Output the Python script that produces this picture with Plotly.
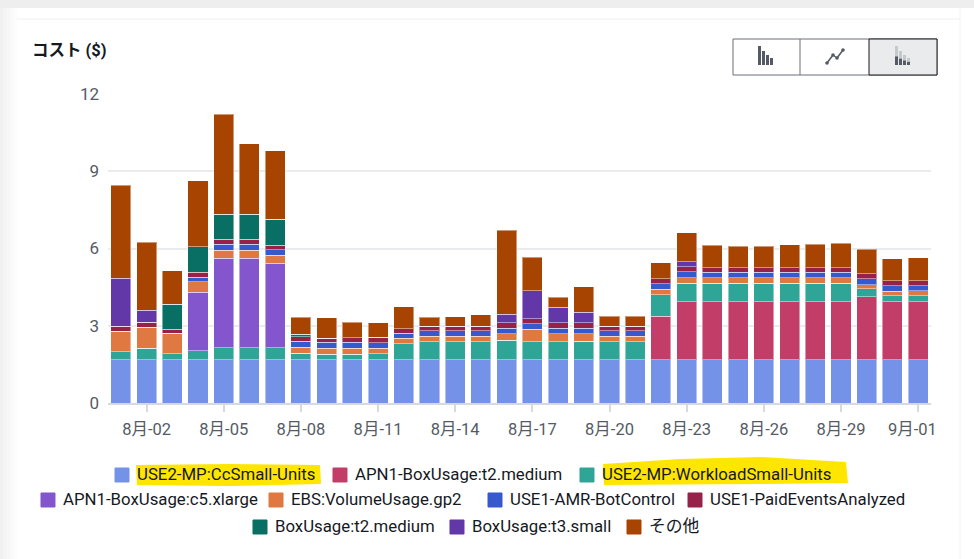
import plotly.graph_objects as go

W, H = 974, 559
L, R, T, B = 108, 931, 94, 403

days = [f"8月-{d:02d}" for d in range(1, 32)] + ["9月-01"]
tick_labels = days[1::3]

cc_small = [1.68] * 32
t2_apn = [0]*21 + [1.68, 2.26, 2.26, 2.26, 2.26, 2.26, 2.26, 2.26, 2.44, 2.26, 2.26]
workload = [.32, .45, .23, .35, .47, .47, .47, .25, .21, .21, .23, .62, .70, .70, .70, .75,
            .70, .70, .72, .70, .70, .84, .71, .71, .71, .71, .71, .71, .71, .32, .22, .22]
c5 = [0, 0, 0, 2.28, 3.48, 3.48, 3.28] + [0]*25
gp2 = [.79, .81, .79, .39, .31, .31, .30, .23, .23, .23, .22, .21, .21, .21, .21, .26,
       .48, .31, .28, .21, .21, .21, .22, .21, .21, .21, .21, .21, .21, .16, .18, .19]
bot = [0, 0, 0, .19, .23, .23, .22, .23, .23, .23, .21, .19, .22, .22, .22, .22,
       .22, .22, .23, .22, .22, .23, .23, .22, .22, .22, .22, .22, .22, .22, .22, .21]
paid = [.19, .19, .17, .18, .18, .18, .18, .18, .17, .19, .22, .19, .18, .18, .18, .21,
        .19, .21, .21, .18, .18, .18, .19, .17, .17, .17, .17, .17, .17, .19, .18, .18]
t2 = [0, 0, .97, 1.0, .98, .98, 1.0, .10] + [0]*24
t3 = [1.86, .48, 0, 0, 0, 0, 0, 0, 0, 0, 0, 0, 0, 0, 0, .32, 1.09, .60, .41, 0, 0, 0, .19] + [0]*9
other = [3.62, 2.63, 1.29, 2.57, 3.89, 2.73, 2.66, .66, .79, .60, .56, .84, .35, .36, .43, 3.26,
         1.31, .38, .98, .38, .38, .63, 1.14, .87, .83, .83, .90, .92, .95, .96, .87, .91]

names = ["USE2-MP:CcSmall-Units", "APN1-BoxUsage:t2.medium", "USE2-MP:WorkloadSmall-Units",
         "APN1-BoxUsage:c5.xlarge", "EBS:VolumeUsage.gp2", "USE1-AMR-BotControl",
         "USE1-PaidEventsAnalyzed", "BoxUsage:t2.medium", "BoxUsage:t3.small", "その他"]
series = [cc_small, t2_apn, workload, c5, gp2, bot, paid, t2, t3, other]
colors = ["#7492e7", "#c33d69", "#2ea597", "#8456ce", "#e07941",
          "#3759ce", "#962249", "#096f64", "#6237a7", "#a84401"]

FONT = "Roboto, 'Noto Sans CJK JP', sans-serif"
TEXT = "#545b64"


def px(x):
    return (x - L) / (R - L)


def py(y):
    return (B - y) / (B - T)


def rect(x0, y0, x1, y1, fill=None, line=None, lw=1, layer="below"):
    return dict(type="rect", xref="paper", yref="paper", x0=px(x0), x1=px(x1), y0=py(y0), y1=py(y1),
                fillcolor=fill or "rgba(0,0,0,0)", line=dict(color=line or "rgba(0,0,0,0)", width=lw if line else 0),
                layer=layer)


def path(points, fill):
    d = "M " + " L ".join(f"{px(x):.5f},{py(y):.5f}" for x, y in points) + " Z"
    return dict(type="path", xref="paper", yref="paper", path=d, fillcolor=fill, line=dict(width=0), layer="below")


fig = go.Figure()
for name, vals, col in zip(names, series, colors):
    fig.add_bar(x=days, y=vals, name=name, marker=dict(color=col, line=dict(color="rgba(255,255,255,0.45)", width=1)))

shapes = []
# page chrome
shapes.append(rect(0, 0, W, 8, fill="#eeeeee"))
for i, g in enumerate(["#f1f1f1", "#f4f4f4", "#f7f7f7", "#fafafa", "#fcfcfc"]):
    shapes.append(rect(i * 3.4, 8, (i + 1) * 3.4, H, fill=g))
shapes.append(dict(type="line", xref="paper", yref="paper", x0=px(17), x1=px(960), y0=py(19), y1=py(19),
                   line=dict(color="#f0f0f0", width=1), layer="below"))
shapes.append(dict(type="line", xref="paper", yref="paper", x0=px(960), x1=px(960), y0=py(8), y1=py(H),
                   line=dict(color="#f2f2f2", width=1), layer="below"))

# highlighter strokes
shapes.append(path([(136, 465), (230, 464), (320, 465), (321, 484), (230, 486), (137, 485)], "#ffe600"))
shapes.append(path([(603, 464), (680, 459), (760, 457), (846, 462), (848, 483), (760, 484), (604, 485)], "#ffe600"))

# view toggle
shapes.append(rect(733, 39, 937, 75, fill="#ffffff", line="#687078", lw=1))
shapes.append(rect(869, 39, 937, 75, fill="#e9ebed", line="#16191f", lw=1))
shapes.append(dict(type="line", xref="paper", yref="paper", x0=px(800), x1=px(800), y0=py(39), y1=py(75),
                   line=dict(color="#687078", width=1), layer="below"))
for x0, h in [(758, 19), (762, 14), (766, 10), (770, 7)]:
    shapes.append(rect(x0, 65 - h, x0 + 3, 65, fill="#545b64"))
for x0, h in [(895, 19), (899, 14), (903, 10), (907, 7)]:
    shapes.append(rect(x0, 65 - h, x0 + 3, 65, fill="#c4cacc"))
    shapes.append(rect(x0, 65 - h * .45, x0 + 3, 65, fill="#545b64"))
line_pts = [(827, 63), (833, 55), (837, 58), (843, 50)]
for (a, b), (c, d) in zip(line_pts, line_pts[1:]):
    shapes.append(dict(type="line", xref="paper", yref="paper", x0=px(a), x1=px(c), y0=py(b), y1=py(d),
                       line=dict(color="#545b64", width=1.5), layer="below"))
for (a, b) in line_pts:
    shapes.append(dict(type="circle", xref="paper", yref="paper", x0=px(a - 1.8), x1=px(a + 1.8), y0=py(b + 1.8), y1=py(b - 1.8),
                       fillcolor="#545b64", line=dict(width=0), layer="below"))

# legend rows
legend_pos = [(122, 474), (340, 474), (587, 474),
              (48, 499), (276, 499), (495, 499), (695, 499),
              (260, 526), (457, 526), (634, 526)]
annotations = []
for (x, y), name, col in zip(legend_pos, names, colors):
    shapes.append(dict(type="path", xref="paper", yref="paper", layer="below",
                       path=(f"M {px(x-7):.5f},{py(y-6):.5f} L {px(x+7):.5f},{py(y-6):.5f} "
                             f"L {px(x+7):.5f},{py(y+8):.5f} L {px(x-7):.5f},{py(y+8):.5f} Z"),
                       fillcolor=col, line=dict(color=col, width=1)))
    annotations.append(dict(xref="paper", yref="paper", x=px(x + 12.5), y=py(y), text=name, showarrow=False,
                            xanchor="left", yanchor="middle",
                            font=dict(family=FONT, size=16.8, color="#16191f")))

annotations.append(dict(xref="paper", yref="paper", x=px(30), y=py(51), text="<b>コスト ($)</b>", showarrow=False,
                        xanchor="left", yanchor="middle",
                        font=dict(family=FONT, size=16.5, color="#16191f")))
# last date label sits left of its tick in the reference
annotations.append(dict(xref="paper", yref="paper", x=px(912), y=py(429), text=tick_labels[-1], showarrow=False,
                        xanchor="center", yanchor="middle",
                        font=dict(family=FONT, size=16.5, color=TEXT)))

fig.update_layout(
    barmode="stack", bargap=0.22, showlegend=False,
    width=W, height=H, autosize=False,
    margin=dict(l=L, r=W - R, t=T, b=H - B, pad=0),
    paper_bgcolor="#ffffff", plot_bgcolor="#ffffff",
    font=dict(family=FONT, size=15, color=TEXT),
    shapes=shapes, annotations=annotations,
    xaxis=dict(type="category", categoryorder="array", categoryarray=days,
               tickmode="array", tickvals=tick_labels, ticktext=tick_labels[:-1] + [""],
               ticks="outside", ticklen=7, tickwidth=1.5, tickcolor="#d5dbdb", tickangle=0,
               showgrid=False, zeroline=False, showline=True, linecolor="#d5dbdb", linewidth=2,
               ticklabelstandoff=3,
               tickfont=dict(family=FONT, size=16.5, color=TEXT), range=[-0.5, 31.5]),
    yaxis=dict(range=[0, 12], tickvals=[0, 3, 6, 9, 12], gridcolor="#e9ebed", gridwidth=2,
               zeroline=False, ticks="", ticklabelstandoff=8,
               tickfont=dict(family=FONT, size=17, color=TEXT)),
)

fig.write_html("out.html", config=dict(displayModeBar=False),
               post_script="document.body.style.margin='0';document.body.style.overflow='hidden';")
